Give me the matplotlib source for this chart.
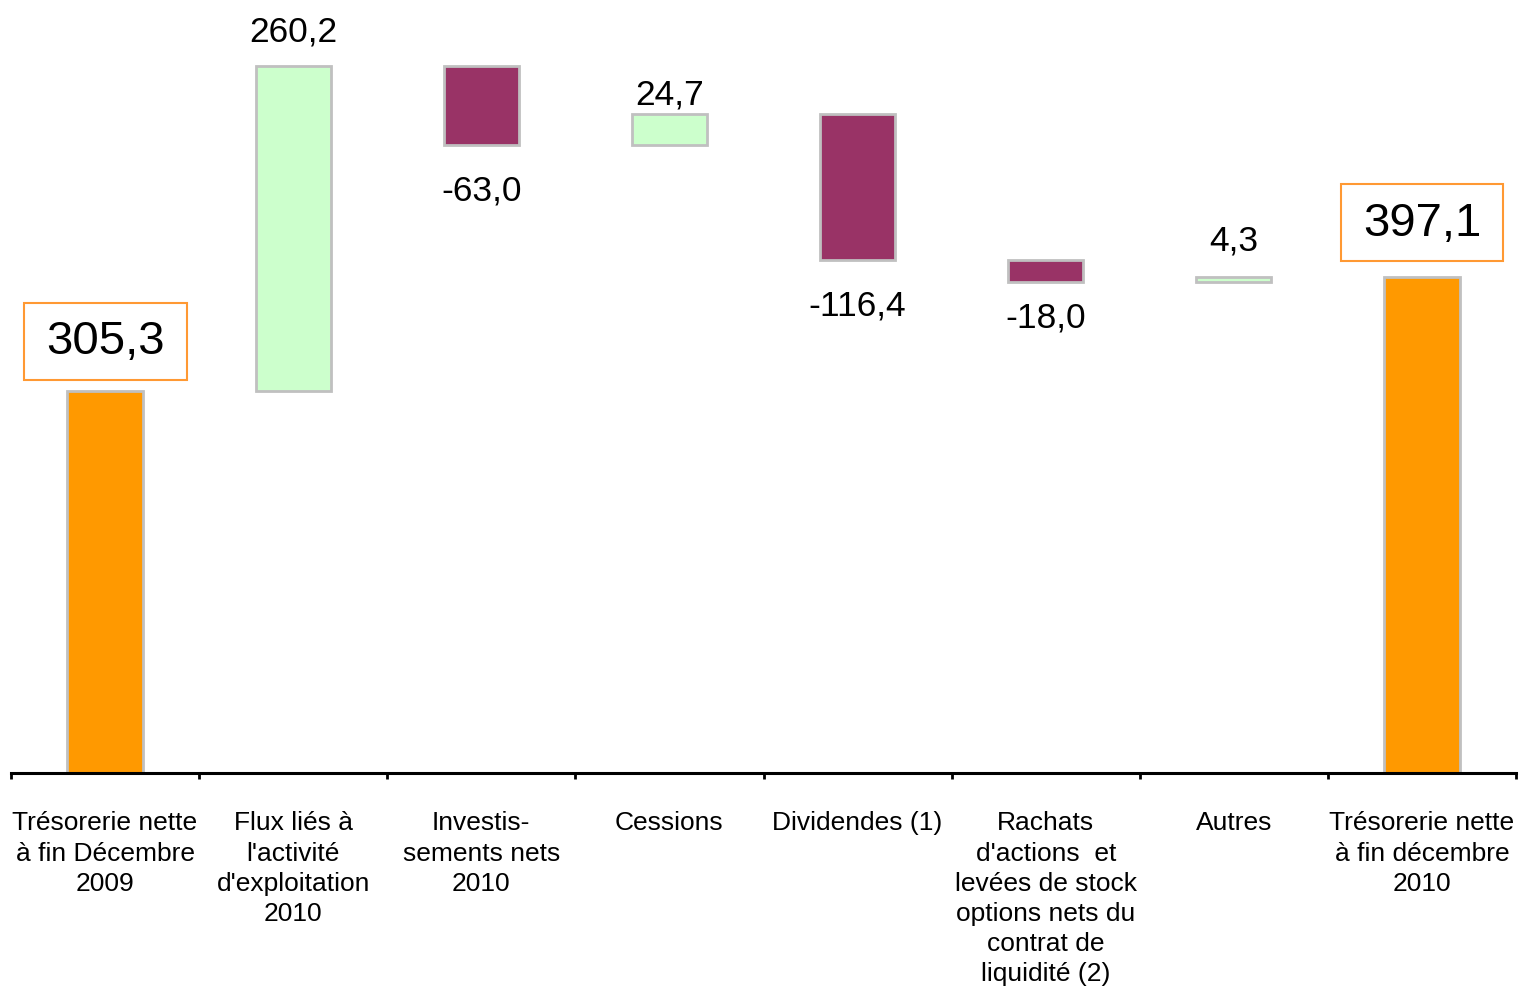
import numpy as np
import matplotlib
matplotlib.use("Agg")
import matplotlib.pyplot as plt

plt.rcParams['font.family'] = ['Liberation Sans', 'DejaVu Sans']

# DATA
categories = [
    "Trésorerie nette\nà fin Décembre\n2009",
    "Flux liés à\nl'activité\nd'exploitation\n2010",
    "Investis-\nsements nets\n2010",
    "Cessions",
    "Dividendes (1)",
    "Rachats\nd'actions  et\nlevées de stock\noptions nets du\ncontrat de\nliquidité (2)",
    "Autres",
    "Trésorerie nette\nà fin décembre\n2010",
]
start_value = 305.3
deltas = [260.2, -63.0, 24.7, -116.4, -18.0, 4.3]
end_value = 397.1
value_labels = ["305,3", "260,2", "-63,0", "24,7", "-116,4", "-18,0", "4,3", "397,1"]

# label offsets in pixels from the bar edge (positive = above top, negative = below bottom)
label_offsets = [50, 35, -45, 20, -45, -35, 37, 54]

ORANGE = "#FF9900"
GREEN = "#CCFFCC"
PURPLE = "#993366"
EDGE = "#C0C0C0"

# waterfall geometry
running = start_value + np.concatenate([[0], np.cumsum(deltas)])
bottoms = [0.0]
heights = [start_value]
colors = [ORANGE]
for i, d in enumerate(deltas):
    lo = min(running[i], running[i + 1])
    bottoms.append(lo)
    heights.append(abs(d))
    colors.append(GREEN if d > 0 else PURPLE)
bottoms.append(0.0)
heights.append(end_value)
colors.append(ORANGE)

fig = plt.figure(figsize=(15.19, 9.87), dpi=100)
ax = fig.add_axes([11 / 1519, 213 / 987, 1505 / 1519, 774 / 987])

x = np.arange(len(categories))
ax.bar(x, heights, bottom=bottoms, width=0.40, color=colors,
       edgecolor=EDGE, linewidth=2, zorder=2)

for i, lab in enumerate(value_labels):
    off = label_offsets[i]
    top = bottoms[i] + heights[i]
    y = top if off > 0 else bottoms[i]
    boxed = i in (0, len(categories) - 1)
    kw = dict(ha='center', va='center', textcoords='offset points',
              color='black')
    if boxed:
        ax.annotate(lab, (x[i], y), xytext=(0, off * 0.72),
                    fontsize=34,
                    bbox=dict(boxstyle='square,pad=0.47', fc='white',
                              ec='#FF9933', lw=1.5, mutation_aspect=0.75),
                    **kw)
    else:
        ax.annotate(lab, (x[i], y), xytext=(0, off * 0.72),
                    fontsize=25.5, **kw)

ax.set_xlim(-0.5, len(categories) - 0.5)
ax.set_ylim(0, 619.2)

for s in ['left', 'right', 'top']:
    ax.spines[s].set_visible(False)
ax.spines['bottom'].set_linewidth(2.2)
ax.spines['bottom'].set_color('black')
ax.set_yticks([])

ax.set_xticks(x)
ax.set_xticklabels(categories, fontsize=19, linespacing=1.32, ha='center')
ax.tick_params(axis='x', which='major', length=0, pad=27)
ax.set_xticks(np.arange(len(categories) + 1) - 0.5, minor=True)
ax.tick_params(axis='x', which='minor', length=4, width=2, direction='out')

fig.savefig("out.png", dpi=100)
